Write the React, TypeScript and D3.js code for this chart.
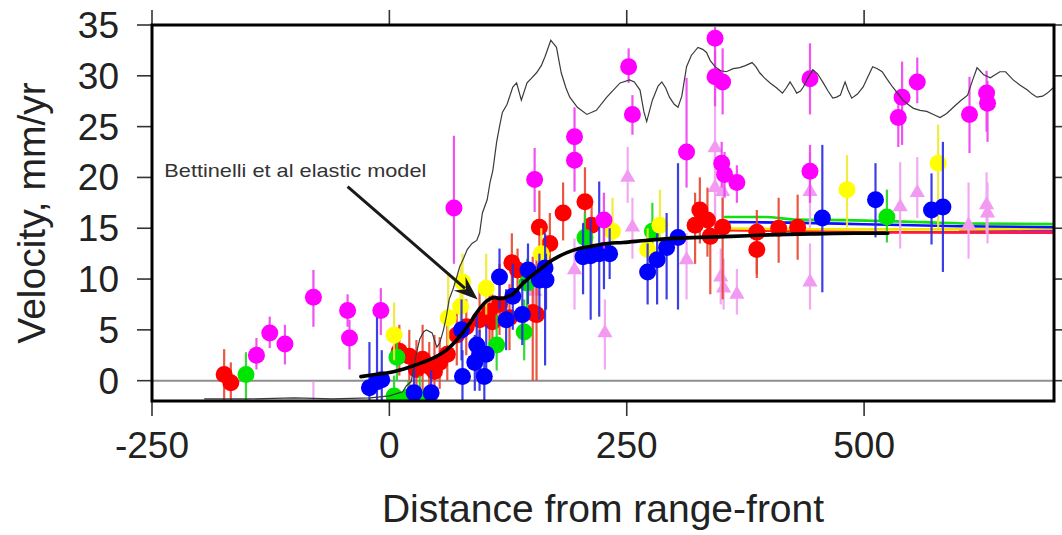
import React, { useEffect, useRef } from 'react';
import * as d3 from 'd3';

const W = 1062;
const H = 535;

const xTicks = [-250, 0, 250, 500];
const yTicks = [0, 5, 10, 15, 20, 25, 30, 35];
const xTitle = 'Distance from range-front';
const yTitle = 'Velocity, mm/yr';
const noteText = 'Bettinelli et al elastic model';

// [distance, velocity, lower, upper]
const redSites = [
  [-174, 0.6, -2.2, 3.1], [-167, -0.2, -2.2, 1.8], [10.5, 2.9, 0.5, 5.5], [21, 2.4, -0.5, 5.0],
  [28.5, 1.1, -1.5, 4.0], [35, 2.1, -1, 5.5], [42, 1.4, -1.8, 3.8], [47.5, 0.9, -2, 4.5],
  [53, 1.8, -0.8, 4.3], [61, 2.6, 0, 6.8], [71, 4.5, 1.5, 7.5], [81, 5.3, 2.5, 8.0],
  [95, 6.0, 2.5, 9.0], [105.5, 6.8, 3.5, 9.5], [108.5, 5.8, 2.5, 8.5], [116, 7.5, 4.5, 11.5],
  [126.5, 6.2, 3, 9.5], [151, 6.7, 0, 12.2], [155, 6.5, 0, 12.5], [129, 11.6, 8, 14.5],
  [135, 10.9, 8.5, 13], [158, 15.1, 12.5, 18.7], [169, 13.5, 10.5, 16.5], [183, 16.5, 13.8, 19.5],
  [206, 17.6, 14.7, 21.0], [213, 15.3, 12.2, 17.8], [322, 15.3, 11.5, 18.5], [327, 16.8, 13.5, 20.0],
  [335, 15.8, 12.2, 19.0], [338, 14.2, 8.5, 16.5], [351, 15.1, 8.0, 18.0], [387, 14.6, 10.1, 16.8],
  [387, 12.9, 10.5, 15.0], [410, 15.0, 11.6, 18.0], [430, 15.1, 11.9, 18.3],
];

const greenSites = [
  [-151, 0.6, -2, 2.8], [8, 2.3, 0, 4.5], [5, -1.5, -2.5, 0.5], [20, -1.6, -2.5, 0],
  [32, -1.7, -2.5, 0.5], [113, 3.5, 1, 6.5], [142, 4.8, 2, 8], [145, 9.6, 7, 12],
  [206, 14.1, 11.5, 16.5], [277, 14.7, 12, 17.5], [524, 16.1, 13.6, 18.8],
];

const yellowSites = [
  [5, 4.5, 2, 7.7], [62, 6.2, 3.5, 10.7], [75, 7.3, 4.5, 11.5], [77, 9.7, 7, 12.5],
  [102, 9.1, 6.5, 12.5], [160, 12.5, 9, 15], [235, 14.7, 11.9, 18.0], [272, 12.9, 10, 15],
  [285, 15.3, 11.9, 18.8], [482, 18.8, 15.1, 22.2], [578, 21.4, 15, 25.2],
];

const blueSites = [
  [-21, -0.7, -2, 3.8], [-13, -0.1, -2, 6.3], [-8, 0.1, -2, 3], [26, -1.2, -2.5, 1.5],
  [44, -1.2, -2.5, 1.0], [76, 5.0, 2, 8], [77, 0.4, -2, 3], [90, 1.8, -1, 4.5],
  [92, 3.5, 0.5, 6.5], [95, 2.6, -1, 5], [100, 0.4, -2, 3], [102, 2.6, 0, 5.5],
  [116, 10.2, 7, 13], [123, 6.0, 3, 9], [130, 8.3, 5, 11.5], [140, 6.5, 3.5, 10],
  [146, 10.9, 7.5, 13.5], [158, 9.9, 6, 12.5], [164, 11.1, 1.5, 14.5], [165, 9.9, 7, 12.5],
  [204, 12.2, 8.5, 15.5], [212, 12.3, 6, 16], [221, 12.5, 6.3, 19.6], [226, 12.8, 9, 15.5],
  [232, 12.5, 10, 15], [272, 10.7, 7.5, 13.5], [282, 11.9, 7.5, 14.5], [292, 13.1, 8, 16.5],
  [304, 14.1, 7, 21.4], [456, 16.0, 8.7, 23.2], [512, 17.8, 14.1, 21.4], [571, 16.8, 13.4, 20.4],
  [583, 17.1, 10.7, 23.5],
];

const magentaSites = [
  [-140, 2.5, 1.1, 4.2], [-126, 4.7, 3.2, 6.3], [-110, 3.6, 1.6, 5.5], [-80, 8.2, 5.3, 10.9],
  [-44, 6.9, 5.3, 8.5], [-42, 4.2, 1.1, 6.0], [-9, 6.9, 4.5, 9.1], [68, 17.0, 11.5, 24.1],
  [153, 19.8, 16.6, 22.9], [195, 24.0, 21, 26.9], [195, 21.7, 18.6, 24.0], [226, 15.8, 13, 18.5],
  [252, 30.9, 29.3, 32.7], [256, 26.2, 24.2, 28.1], [313, 22.5, 19.0, 29.8], [343, 33.7, 30, 34.8],
  [343, 29.9, 27, 32.5], [351, 29.4, 26.2, 32.7], [350, 21.4, 19, 23.5], [353, 20.3, 18, 22.5],
  [366, 19.5, 17.5, 21.2], [443, 29.7, 26.2, 33.2], [443, 20.6, 17.5, 23.2], [540, 27.9, 23.2, 31.4],
  [536, 25.9, 23, 28.5], [556, 29.4, 27.3, 31.8], [611, 26.2, 22.4, 29.9], [629, 28.3, 24.5, 30.5],
  [630, 27.3, 23.5, 29.5],
];

const violetSites = [
  [-80, -3, -5, -0.1], [153, 8.8, 6, 11.5], [195, 10.9, 7, 14], [227, 4.7, 1.1, 8],
  [251, 20.0, 17.5, 23.0], [256, 15.1, 12, 18.0], [313, 11.9, 8.0, 14.5], [343, 22.9, 15, 29],
  [343, 19.0, 15.5, 22.5], [351, 18.6, 15.5, 22], [349, 10.2, 7.5, 13], [352, 9.1, 7, 12],
  [366, 8.5, 6.5, 11], [443, 18.6, 15.0, 22.5], [443, 9.7, 7.0, 13.5], [538, 17.1, 13, 21.5],
  [556, 18.5, 16, 22], [610, 15.3, 12, 19.5], [629, 17.3, 14.5, 20.5], [630, 16.5, 13.5, 19.5],
];

// Bettinelli et al elastic model
const bettinelliModel = [
  [-30, 0.4], [-15, 0.6], [0, 0.8], [20, 1.3], [35, 1.8], [50, 2.4], [60, 3.0], [70, 3.9],
  [77, 4.7], [85, 5.7], [92, 6.7], [97, 7.3], [102, 7.8], [107, 8.1], [111, 8.2], [115, 8.1],
  [119, 8.1], [125, 8.3], [130, 8.5], [135, 9.0], [141, 9.6], [148, 10.2], [155, 10.7],
  [162, 11.2], [169, 11.7], [178, 12.2], [187, 12.6], [200, 13.0], [211, 13.2], [230, 13.5],
  [246, 13.6], [270, 13.8], [299, 14.0], [327, 14.1], [360, 14.2], [400, 14.35], [450, 14.45],
  [490, 14.5], [525, 14.5],
];

// thin profile line
const profileLine = [
  [-195, -1.8], [-150, -1.8], [-100, -1.7], [-60, -1.8], [-20, -1.7], [0, -1.5], [10, -1.2],
  [14, -1.1], [18, -0.5], [23, -0.1], [28, 2.5], [32, 4.1], [36, 4.8], [39, 5.0], [45, 4.7],
  [50, 3.3], [53, 3.7], [57, 5.0], [60, 6.3], [63, 8.0], [67, 9.0], [71, 10.2], [74, 11.2],
  [78, 12.0], [82, 12.9], [87, 13.5], [92, 13.8], [95, 14.5], [98, 16.5], [103, 17.8],
  [106, 19.5], [109, 20.7], [113, 23.5], [116, 25.0], [119, 26.4], [124, 27.2], [130, 28.9],
  [134, 29.3], [139, 27.6], [145, 29.3], [150, 29.8], [155, 30.3], [160, 31.0], [164, 31.9],
  [170, 33.5], [176, 32.8], [181, 30.3], [186, 28.8], [190, 27.9], [198, 26.9], [208, 26.2],
  [218, 26.6], [229, 27.9], [243, 29.3], [253, 29.6], [258, 29.4], [264, 28.6], [268, 26.5],
  [271, 25.5], [277, 27.6], [283, 29.0], [287, 29.4], [291, 28.8], [295, 27.9], [300, 27.2],
  [304, 26.9], [308, 28.0], [313, 30.9], [318, 32.0], [325, 32.8], [330, 32.6], [334, 32.3],
  [338, 31.5], [343, 30.9], [349, 30.5], [355, 30.4], [362, 30.7], [369, 30.8], [375, 31.0],
  [382, 31.3], [386, 30.9], [390, 30.3], [395, 29.8], [401, 29.3], [408, 28.8], [414, 28.3],
  [418, 28.8], [422, 29.4], [426, 28.8], [429, 28.3], [433, 28.5], [436, 28.9], [441, 29.8],
  [446, 30.6], [451, 30.2], [457, 29.3], [462, 28.5], [467, 27.8], [471, 27.9], [475, 28.1],
  [478, 28.9], [480, 29.4], [483, 28.6], [487, 27.8], [493, 28.2], [499, 28.9], [504, 29.9],
  [509, 30.9], [514, 30.7], [519, 30.4], [524, 29.7], [530, 28.9], [536, 28.2], [541, 27.6],
  [546, 27.2], [552, 26.8], [559, 26.6], [566, 26.5], [573, 26.2], [580, 25.9], [587, 26.3],
  [594, 26.9], [601, 27.5], [609, 28.1], [614, 29.5], [619, 30.8], [623, 30.4], [626, 30.1],
  [633, 29.8], [638, 30.1], [643, 30.4], [649, 30.4], [653, 30.0], [657, 29.6], [664, 29.1],
  [672, 28.6], [677, 28.2], [682, 27.9], [688, 28.0], [693, 28.3], [699, 28.8], [705, 29.5],
];

// other model curves (coloured)
const greenModel = [[352, 16.1], [395, 16.1], [430, 15.85], [480, 15.8], [560, 15.6], [620, 15.45], [705, 15.4]];
const blueModel = [[352, 15.6], [420, 15.55], [500, 15.4], [600, 15.2], [705, 15.1]];
const yellowModel = [[352, 15.0], [450, 14.9], [600, 14.9], [705, 15.0]];
const redModel = [[352, 14.8], [450, 14.7], [550, 14.6], [705, 14.6]];
const magentaModel = [[525, 14.6], [705, 14.55]];
const purpleModel = [[600, 14.75], [705, 14.75]];

// annotation anchor points (data units)
const noteAnchor = [-237, 20.0];
const arrowStart = [-44, 19.1];
const arrowTip = [93, 8.0];

const FONT = '"Liberation Sans", Arial, Helvetica, sans-serif';

export default function App() {
  const ref = useRef<SVGSVGElement>(null);

  useEffect(() => {
    const svg = d3.select(ref.current);
    svg.selectAll('*').remove();

    const left = 152, right = 1054, top = 25, bottom = 401;
    const x = d3.scaleLinear().domain([-250, 700]).range([left, right]);
    const y = d3.scaleLinear().domain([-2, 35]).range([bottom, top]);

    svg.append('rect').attr('width', W).attr('height', H).attr('fill', '#fff');

    const defs = svg.append('defs');
    defs.append('clipPath').attr('id', 'plotclip')
      .append('rect').attr('x', left).attr('y', top).attr('width', right - left).attr('height', bottom - top);

    const plot = svg.append('g').attr('clip-path', 'url(#plotclip)');

    // zero line
    plot.append('line')
      .attr('x1', left).attr('x2', right).attr('y1', y(0)).attr('y2', y(0))
      .attr('stroke', '#8e8e8e').attr('stroke-width', 2);

    const line = d3.line<number[]>().x(d => x(d[0])).y(d => y(d[1]));
    const smooth = d3.line<number[]>().x(d => x(d[0])).y(d => y(d[1])).curve(d3.curveMonotoneX);

    // coloured model lines
    const models: [number[][], string][] = [
      [purpleModel, '#8a2be2'], [magentaModel, '#ff00ff'], [redModel, '#ff2020'],
      [yellowModel, '#f0e800'], [blueModel, '#1010ff'], [greenModel, '#10e010'],
    ];
    models.forEach(([data, col]) => {
      plot.append('path').attr('d', smooth(data)).attr('fill', 'none')
        .attr('stroke', col).attr('stroke-width', 2.6);
    });

    const drawBars = (data: number[][], col: string, op: number) => {
      plot.append('g').selectAll('line').data(data).join('line')
        .attr('x1', d => x(d[0])).attr('x2', d => x(d[0]))
        .attr('y1', d => y(d[2])).attr('y2', d => y(d[3]))
        .attr('stroke', col).attr('stroke-width', 2.2).attr('opacity', op);
    };
    const drawDots = (data: number[][], col: string) => {
      plot.append('g').selectAll('circle').data(data).join('circle')
        .attr('cx', d => x(d[0])).attr('cy', d => y(d[1])).attr('r', 8.5)
        .attr('fill', col);
    };

    // violet triangles
    drawBars(violetSites, '#f2a6f2', 0.95);
    const tri = d3.symbol().type(d3.symbolTriangle).size(100);
    plot.append('g').selectAll('path').data(violetSites).join('path')
      .attr('d', tri as any)
      .attr('transform', d => `translate(${x(d[0])},${y(d[1])})`)
      .attr('fill', '#f29af2');

    const series: [number[][], string, string][] = [
      [redSites, '#ff0000', '#e8452e'],
      [greenSites, '#00e600', '#20d820'],
      [yellowSites, '#ffff00', '#eeea30'],
      [blueSites, '#0000ff', '#2a2ae6'],
      [magentaSites, '#ff00ff', '#f040f0'],
    ];
    series.forEach(([data, col, barCol]) => {
      drawBars(data, barCol, 0.9);
      drawDots(data, col);
    });

    // thin profile
    plot.append('path').attr('d', line(profileLine)).attr('fill', 'none')
      .attr('stroke', '#3a3a3a').attr('stroke-width', 1.2);

    // Bettinelli model
    plot.append('path').attr('d', smooth(bettinelliModel)).attr('fill', 'none')
      .attr('stroke', '#000').attr('stroke-width', 3.6).attr('stroke-linecap', 'round');

    // axes ticks
    const axisG = svg.append('g').attr('stroke', '#333').attr('stroke-width', 1.6);
    xTicks.forEach(t => {
      axisG.append('line').attr('x1', x(t)).attr('x2', x(t)).attr('y1', bottom).attr('y2', bottom + 15);
      axisG.append('line').attr('x1', x(t)).attr('x2', x(t)).attr('y1', top).attr('y2', top - 15);
    });
    yTicks.forEach(t => {
      axisG.append('line').attr('x1', left).attr('x2', left - 15).attr('y1', y(t)).attr('y2', y(t));
      axisG.append('line').attr('x1', right).attr('x2', right + 15).attr('y1', y(t)).attr('y2', y(t));
    });

    // frame
    svg.append('rect').attr('x', left).attr('y', top).attr('width', right - left).attr('height', bottom - top)
      .attr('fill', 'none').attr('stroke', '#000').attr('stroke-width', 3);

    // tick labels
    svg.append('g').selectAll('text').data(xTicks).join('text')
      .attr('x', d => x(d)).attr('y', 458).attr('text-anchor', 'middle')
      .attr('font-family', FONT).attr('font-size', 37).attr('fill', '#222')
      .text(d => String(d));
    svg.append('g').selectAll('text').data(yTicks).join('text')
      .attr('x', 119).attr('y', d => y(d) + 13).attr('text-anchor', 'end')
      .attr('font-family', FONT).attr('font-size', 37).attr('fill', '#222')
      .text(d => String(d));

    // titles
    svg.append('text').attr('x', (left + right) / 2).attr('y', 522).attr('text-anchor', 'middle')
      .attr('font-family', FONT).attr('font-size', 39).attr('fill', '#222').text(xTitle);
    svg.append('text').attr('transform', `translate(45,${(top + bottom) / 2}) rotate(-90)`)
      .attr('text-anchor', 'middle')
      .attr('font-family', FONT).attr('font-size', 39).attr('fill', '#222').text(yTitle);

    // annotation
    svg.append('text').attr('x', x(noteAnchor[0])).attr('y', y(noteAnchor[1]))
      .attr('font-family', FONT).attr('font-size', 19).attr('fill', '#333')
      .attr('textLength', 262).attr('lengthAdjust', 'spacingAndGlyphs')
      .text(noteText);

    const sx = x(arrowStart[0]), sy = y(arrowStart[1]);
    const tx = x(arrowTip[0]), ty = y(arrowTip[1]);
    const len = Math.hypot(tx - sx, ty - sy);
    const ux = (tx - sx) / len, uy = (ty - sy) / len;
    const nx = -uy, ny = ux;
    const L = 24, Wd = 9;
    svg.append('line').attr('x1', sx).attr('y1', sy)
      .attr('x2', tx - ux * L * 0.7).attr('y2', ty - uy * L * 0.7)
      .attr('stroke', '#1a1a1a').attr('stroke-width', 3);
    const head = [
      [tx, ty],
      [tx - ux * L + nx * Wd, ty - uy * L + ny * Wd],
      [tx - ux * L * 0.65, ty - uy * L * 0.65],
      [tx - ux * L - nx * Wd, ty - uy * L - ny * Wd],
    ];
    svg.append('path').attr('d', 'M' + head.map(p => p.join(',')).join('L') + 'Z').attr('fill', '#1a1a1a');
  }, []);

  return (
    <svg ref={ref} width={W} height={H}
      style={{ position: 'absolute', left: 0, top: 0, display: 'block' }} />
  );
}
